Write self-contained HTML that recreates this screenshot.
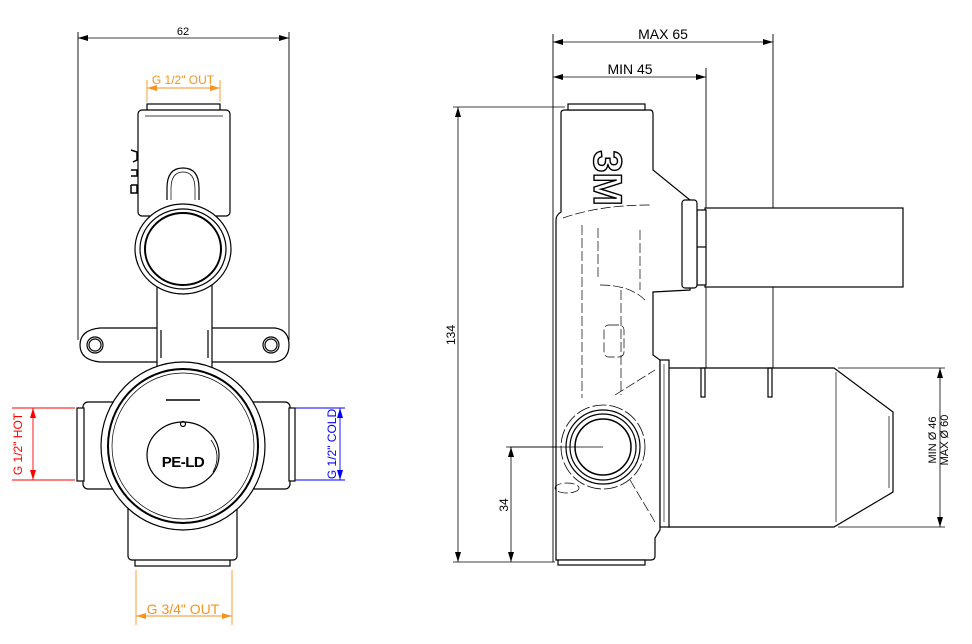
<!DOCTYPE html>
<html><head><meta charset="utf-8"><style>
html,body{margin:0;padding:0;background:#fff;}
svg{display:block;font-family:"Liberation Sans",Arial,sans-serif;}
</style></head><body>
<svg width="972" height="644" viewBox="0 0 972 644" xmlns="http://www.w3.org/2000/svg">
<defs>
<marker id="a" viewBox="0 0 10 6" refX="10" refY="3" markerWidth="10" markerHeight="6" orient="auto-start-reverse" markerUnits="userSpaceOnUse"><path d="M0,0L10,3L0,6z" fill="#000"/></marker>
<marker id="ao" viewBox="0 0 10 6" refX="10" refY="3" markerWidth="10" markerHeight="6" orient="auto-start-reverse" markerUnits="userSpaceOnUse"><path d="M0,0L10,3L0,6z" fill="#f7931e"/></marker>
<marker id="ar" viewBox="0 0 10 6" refX="10" refY="3" markerWidth="10" markerHeight="6" orient="auto-start-reverse" markerUnits="userSpaceOnUse"><path d="M0,0L10,3L0,6z" fill="#f00"/></marker>
<marker id="ab" viewBox="0 0 10 6" refX="10" refY="3" markerWidth="10" markerHeight="6" orient="auto-start-reverse" markerUnits="userSpaceOnUse"><path d="M0,0L10,3L0,6z" fill="#00f"/></marker>
</defs>
<g fill="none" stroke="#000" stroke-width="1.2">
<!-- LEFT VIEW -->
<line x1="78" y1="38" x2="289" y2="38" stroke-width="0.8" marker-start="url(#a)" marker-end="url(#a)"/>
<line x1="78" y1="32" x2="78" y2="340" stroke-width="0.9"/>
<line x1="289" y1="32" x2="289" y2="340" stroke-width="0.9"/>
<path d="M100,328 L275,328 Q289,330 289,345 Q289,360 275,362 L100,362 Q80,360 80,345 Q80,330 100,328Z" fill="#fff"/>
<circle cx="95" cy="345" r="8"/><circle cx="95" cy="345" r="6"/>
<circle cx="271" cy="345" r="8"/><circle cx="271" cy="345" r="6"/>
<rect x="157" y="285" width="55" height="85" fill="#fff"/>
<line x1="161" y1="330" x2="161" y2="358"/><line x1="208" y1="330" x2="208" y2="358"/>
<rect x="147" y="104" width="73" height="7" fill="#fff"/>
<rect x="138" y="110" width="92" height="106" rx="4" fill="#fff"/>
<line x1="145" y1="116" x2="223" y2="116" stroke-width="0.8"/>
<path d="M167,200 L167,188 Q167,168 183,168 Q199,168 199,188 L199,200"/>
<path d="M171,200 L171,189 Q171,172 183,172 Q195,172 195,189 L195,200" stroke-width="0.7"/>
<path d="M131,150 l6,2 v8 l-4,2 M131,170 h6 v6 h-6 M131,185 h6 v8 h-6 v-8" stroke-width="1.5"/>
<ellipse cx="183" cy="249" rx="48" ry="45" fill="#fff"/>
<ellipse cx="183" cy="249" rx="43" ry="40"/>
<ellipse cx="183" cy="249" rx="38" ry="36" stroke-width="2"/>
<rect x="83" y="402" width="207" height="87" rx="5" fill="#fff"/>
<rect x="77" y="408" width="7" height="73" fill="#fff"/>
<rect x="289" y="408" width="6" height="73" fill="#fff"/>
<rect x="135" y="559" width="95" height="7" fill="#fff"/>
<rect x="128" y="505" width="109" height="55" rx="4" fill="#fff"/>
<ellipse cx="183" cy="446" rx="82" ry="84" fill="#fff"/>
<ellipse cx="183" cy="446" rx="75" ry="77" stroke-width="2"/>
<ellipse cx="183" cy="446" rx="71" ry="73" stroke-width="0.7"/>
<line x1="166" y1="400" x2="200" y2="400" stroke-width="1.5"/>
<circle cx="183" cy="424" r="2.5"/>
<ellipse cx="183" cy="455" rx="36" ry="33"/>
<path d="M211,440 Q222,455 213,472" stroke-width="0.8"/>
<g stroke="#f00" stroke-width="0.9">
<line x1="12" y1="408" x2="75" y2="408"/><line x1="12" y1="480" x2="75" y2="480"/>
<line x1="33" y1="408" x2="33" y2="480" marker-start="url(#ar)" marker-end="url(#ar)"/>
</g>
<g stroke="#00f" stroke-width="0.9">
<line x1="295" y1="408" x2="345" y2="408"/><line x1="295" y1="480" x2="345" y2="480"/>
<line x1="340" y1="408" x2="340" y2="480" marker-start="url(#ab)" marker-end="url(#ab)"/>
</g>
<g stroke="#f7931e" stroke-width="0.9">
<line x1="147" y1="80" x2="147" y2="102"/><line x1="220" y1="80" x2="220" y2="102"/>
<line x1="147" y1="88" x2="220" y2="88" marker-start="url(#ao)" marker-end="url(#ao)"/>
<line x1="136" y1="570" x2="136" y2="625"/><line x1="232" y1="570" x2="232" y2="625"/>
<line x1="136" y1="616" x2="232" y2="616" marker-start="url(#ao)" marker-end="url(#ao)"/>
</g>

<!-- RIGHT VIEW -->
<line x1="553" y1="42" x2="773" y2="42" stroke-width="0.8" marker-start="url(#a)" marker-end="url(#a)"/>
<line x1="553" y1="77" x2="706" y2="77" stroke-width="0.8" marker-start="url(#a)" marker-end="url(#a)"/>
<line x1="553" y1="34" x2="553" y2="562" stroke-width="0.9"/>
<line x1="773" y1="34" x2="773" y2="372" stroke-width="0.9"/>
<line x1="706" y1="68" x2="706" y2="372" stroke-width="0.9"/>
<line x1="453" y1="107" x2="565" y2="107" stroke-width="0.8"/>
<line x1="453" y1="562" x2="555" y2="562" stroke-width="0.8"/>
<line x1="458" y1="107" x2="458" y2="562" stroke-width="0.8" marker-start="url(#a)" marker-end="url(#a)"/>
<line x1="506" y1="447" x2="603" y2="447" stroke-width="0.8"/>
<line x1="511" y1="447" x2="511" y2="562" stroke-width="0.8" marker-start="url(#a)" marker-end="url(#a)"/>
<line x1="838" y1="368" x2="945" y2="368" stroke-width="0.8"/>
<line x1="838" y1="527" x2="945" y2="527" stroke-width="0.8"/>
<line x1="940" y1="368" x2="940" y2="527" stroke-width="0.8" marker-start="url(#a)" marker-end="url(#a)"/>
<rect x="705" y="208" width="198" height="79" fill="#fff"/>
<rect x="697" y="210" width="9" height="75" fill="#fff"/>
<line x1="697" y1="247" x2="706" y2="247"/>
<path d="M668,368 L834,368 L893,412 L893,492 L834,527 L668,527" fill="#fff"/>
<line x1="836" y1="372" x2="836" y2="522" stroke-width="0.7"/>
<line x1="889" y1="416" x2="889" y2="488" stroke-width="0.7"/>
<rect x="701" y="368" width="4" height="29"/><rect x="768" y="368" width="4" height="29"/>
<path d="M556,560 L556,220 Q556,215 561,212 L561,113 Q561,110 565,110 L650,110 Q653,110 653,114 L653,170 L690,200 L690,290 L653,292 L653,355 L660,360 L660,530 L655,538 L655,556 Q655,560 651,560 Z" fill="#fff"/>
<rect x="568" y="104" width="77" height="6" fill="#fff"/>
<rect x="558" y="560" width="87" height="5" fill="#fff"/>
<rect x="682" y="200" width="15" height="88" rx="3" fill="#fff"/>
<rect x="660" y="360" width="9" height="167" fill="#fff"/>
<line x1="664" y1="364" x2="664" y2="522" stroke-width="0.6"/>
<g stroke-width="0.7" stroke-dasharray="10,3">
<line x1="582" y1="225" x2="582" y2="398"/>
<line x1="598" y1="228" x2="598" y2="280"/>
<line x1="640" y1="230" x2="640" y2="290"/>
<line x1="621" y1="290" x2="621" y2="395"/>
<path d="M563,218 Q600,205 650,205"/>
<path d="M600,285 Q630,285 645,300"/>
<rect x="604" y="325" width="20" height="32" rx="5"/>
<line x1="615" y1="395" x2="655" y2="370"/>
<line x1="630" y1="480" x2="655" y2="522"/>
<ellipse cx="567" cy="488" rx="12" ry="5"/>
</g>
<circle cx="603" cy="447" r="42" stroke-width="0.8" stroke-dasharray="14,3"/>
<circle cx="603" cy="447" r="37" fill="#fff"/>
<circle cx="603" cy="447" r="33"/>
<circle cx="603" cy="447" r="28" stroke-width="1.5"/>
<line x1="510" y1="447" x2="603" y2="447" stroke-width="0.8"/>
</g>
<g font-size="12" fill="#000">
<text x="183" y="35" text-anchor="middle" font-size="11">62</text>
<text x="183" y="467" text-anchor="middle" font-weight="bold" font-size="15" letter-spacing="-0.5">PE-LD</text>
<text x="663" y="39" text-anchor="middle" font-size="14">MAX 65</text>
<text x="630" y="74" text-anchor="middle" font-size="14">MIN 45</text>
<text transform="translate(455,335) rotate(-90)" text-anchor="middle" font-size="12">134</text>
<text transform="translate(508,505) rotate(-90)" text-anchor="middle" font-size="12">34</text>
<text transform="translate(936,440) rotate(-90)" text-anchor="middle" font-size="11">MIN Ø  46</text>
<text transform="translate(948,440) rotate(-90)" text-anchor="middle" font-size="11">MAX Ø 60</text>
<text transform="translate(594,178) rotate(90)" text-anchor="middle" font-size="40" font-weight="bold" fill="#fff" stroke="#000" stroke-width="1.4">3M</text>
</g>
<text x="183" y="84" text-anchor="middle" font-size="12" fill="#f7931e">G 1/2" OUT</text>
<text x="183" y="614" text-anchor="middle" font-size="14" fill="#f7931e">G 3/4" OUT</text>
<text transform="translate(22,444) rotate(-90)" text-anchor="middle" font-size="12" fill="#f00">G 1/2" HOT</text>
<text transform="translate(336,444) rotate(-90)" text-anchor="middle" font-size="12" fill="#00f">G 1/2" COLD</text>
</svg>
</body></html>
